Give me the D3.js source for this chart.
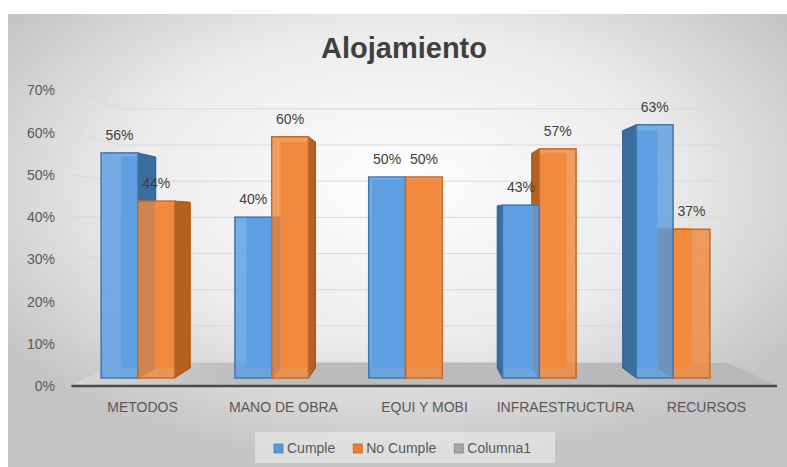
<!DOCTYPE html>
<html>
<head>
<meta charset="utf-8">
<script src="https://cdn.jsdelivr.net/npm/d3@7"></script>
<style>
  body { margin: 0; background: #fff; }
  svg text { font-family: "Liberation Sans", Arial, sans-serif; }
</style>
</head>
<body>
<div id="chart"></div>
<script>
// data
var categories = ["METODOS", "MANO DE OBRA", "EQUI Y MOBI", "INFRAESTRUCTURA", "RECURSOS"];
var seriesNames = ["Cumple", "No Cumple"];
var cumple = [0.56, 0.40, 0.50, 0.43, 0.63];
var noCumple = [0.44, 0.60, 0.50, 0.57, 0.37];
var legendLabels = ["Cumple", "No Cumple", "Columna1"];
var yTicks = [0, 0.1, 0.2, 0.3, 0.4, 0.5, 0.6, 0.7];

var W = 787, H = 467;
var fronts = ["#5d9fe0", "#f08a40"];
var sides = ["#3b6c9e", "#b5601f"];
var strokes = ["#3f77b3", "#c46a2a"];
var legendColors = ["#5b9bd5", "#ed7d31", "#a5a5a5"];

// fake 3d: everything is drawn in the front plane and pulled to a vanishing point
var VP = [420, 219];
var dBar = 0.937, dWall = 0.9, dFloor = 1.05;
function proj(x, y, r) {
    return [VP[0] + (x - VP[0]) * r, VP[1] + (y - VP[1]) * r];
}
function poly(pts) {
    return "M" + pts.map(function(p) { return p[0] + "," + p[1]; }).join("L") + "Z";
}

var svg = d3.select("#chart").append("svg")
    .attr("width", W)
    .attr("height", H);

var defs = svg.append("defs");
var bg = defs.append("radialGradient")
    .attr("id", "bg")
    .attr("cx", "50%").attr("cy", "38%").attr("r", "62%");
bg.append("stop").attr("offset", "0%").attr("stop-color", "#ffffff");
bg.append("stop").attr("offset", "55%").attr("stop-color", "#ececec");
bg.append("stop").attr("offset", "100%").attr("stop-color", "#c4c4c4");

var fl = defs.append("linearGradient")
    .attr("id", "floor").attr("x1", 0).attr("x2", 1).attr("y1", 0).attr("y2", 0);
fl.append("stop").attr("offset", "0%").attr("stop-color", "#d6d6d6");
fl.append("stop").attr("offset", "25%").attr("stop-color", "#bdbdbd");
fl.append("stop").attr("offset", "100%").attr("stop-color", "#b8b8b8");

svg.append("rect")
    .attr("x", 8).attr("y", 14)
    .attr("width", W - 8).attr("height", H - 14)
    .attr("fill", "url(#bg)");

// title
svg.append("text")
    .attr("x", 404).attr("y", 58)
    .attr("text-anchor", "middle")
    .attr("font-size", 29)
    .attr("font-weight", "bold")
    .attr("fill", "#404040")
    .text("Alojamiento");

var y = d3.scaleLinear().domain([0, 0.7]).range([378, 96.6]);
var x = d3.scaleBand().domain(categories).range([71, 740]).paddingInner(0.45).paddingOuter(0.225);
var xs = d3.scaleBand().domain(seriesNames).range([0, x.bandwidth()]);
var xLab = d3.scaleBand().domain(categories).range([72, 777]);

var wallL = 88, wallR = 760;

// floor
svg.append("path")
    .attr("d", poly([proj(wallL, y(0), dFloor), proj(wallR, y(0), dFloor),
                     proj(wallR, y(0), dWall), proj(wallL, y(0), dWall)]))
    .attr("fill", "url(#floor)");

// gridlines (left wall + back wall)
svg.selectAll(".grid")
    .data(yTicks)
    .enter().append("path")
    .attr("class", "grid")
    .attr("d", function(d) {
        var a = proj(wallL, y(d), dFloor), b = proj(wallL, y(d), dWall), c = proj(wallR, y(d), dWall);
        return "M" + a + "L" + b + "L" + c;
    })
    .attr("fill", "none")
    .attr("stroke", "#d9d9d9")
    .attr("stroke-width", 1);

// y labels
svg.selectAll(".ylab")
    .data(yTicks)
    .enter().append("text")
    .attr("class", "ylab")
    .attr("x", 55)
    .attr("y", function(d) { return proj(wallL, y(d), dFloor)[1] + 5; })
    .attr("text-anchor", "end")
    .attr("font-size", 14)
    .attr("fill", "#595959")
    .text(d3.format(".0%"));

// bars
var bars = [];
categories.forEach(function(c, i) {
    [cumple[i], noCumple[i]].forEach(function(v, s) {
        var x0 = x(c) + xs(seriesNames[s]);
        bars.push({ cat: c, s: s, v: v, x0: x0, x1: x0 + xs.bandwidth() });
    });
});
bars.sort(function(a, b) {
    return Math.abs((b.x0 + b.x1) / 2 - VP[0]) - Math.abs((a.x0 + a.x1) / 2 - VP[0]);
});

var g = svg.append("g");
bars.forEach(function(d) {
    var top = y(d.v), bot = y(0);
    var bx = g.append("g");
    // back face, seen through the front
    bx.append("path")
        .attr("d", poly([proj(d.x0, top, dBar), proj(d.x1, top, dBar), proj(d.x1, bot, dBar), proj(d.x0, bot, dBar)]))
        .attr("fill", fronts[d.s])
        .attr("stroke", d3.color(fronts[d.s]).brighter(0.4))
        .attr("stroke-width", 1);
    if (d.x0 > VP[0]) {
        bx.append("path")
            .attr("d", poly([proj(d.x0, top, 1), proj(d.x0, top, dBar), proj(d.x0, bot, dBar), proj(d.x0, bot, 1)]))
            .attr("fill", sides[d.s])
            .attr("stroke", d3.color(sides[d.s]).darker(0.3))
            .attr("stroke-width", 1);
    }
    if (d.x1 < VP[0]) {
        bx.append("path")
            .attr("d", poly([proj(d.x1, top, 1), proj(d.x1, top, dBar), proj(d.x1, bot, dBar), proj(d.x1, bot, 1)]))
            .attr("fill", sides[d.s])
            .attr("stroke", d3.color(sides[d.s]).darker(0.3))
            .attr("stroke-width", 1);
    }
    bx.append("rect")
        .attr("x", d.x0).attr("y", top)
        .attr("width", d.x1 - d.x0).attr("height", bot - top)
        .attr("fill", fronts[d.s])
        .attr("fill-opacity", 0.82)
        .attr("stroke", strokes[d.s])
        .attr("stroke-width", 1.5);
});

// floor front edge
var f0 = proj(wallL, y(0), dFloor), f1 = proj(wallR, y(0), dFloor);
svg.append("line")
    .attr("x1", f0[0]).attr("y1", f0[1])
    .attr("x2", f1[0]).attr("y2", f1[1])
    .attr("stroke", "#4a4a4a")
    .attr("stroke-width", 2.5);

// data labels
svg.selectAll(".dlab")
    .data(bars)
    .enter().append("text")
    .attr("class", "dlab")
    .attr("x", function(d) { return (d.x0 + d.x1) / 2; })
    .attr("y", function(d) { return y(d.v) - 13; })
    .attr("text-anchor", "middle")
    .attr("font-size", 14)
    .attr("fill", "#404040")
    .text(function(d) { return d3.format(".0%")(d.v); });

// category labels
svg.selectAll(".xlab")
    .data(categories)
    .enter().append("text")
    .attr("class", "xlab")
    .attr("x", function(d) { return xLab(d) + xLab.bandwidth() / 2; })
    .attr("y", 412)
    .attr("text-anchor", "middle")
    .attr("font-size", 14)
    .attr("fill", "#595959")
    .text(function(d) { return d; });

// legend
svg.append("rect")
    .attr("x", 255).attr("y", 432)
    .attr("width", 300).attr("height", 31)
    .attr("fill", "#ececec")
    .attr("fill-opacity", 0.6);

var lg = svg.append("g");
var lx = 274;
legendLabels.forEach(function(l, i) {
    lg.append("rect")
        .attr("x", lx).attr("y", 444)
        .attr("width", 9).attr("height", 9)
        .attr("fill", legendColors[i])
        .attr("stroke", d3.color(legendColors[i]).darker(0.6))
        .attr("stroke-width", 0.8);
    var t = lg.append("text")
        .attr("x", lx + 13).attr("y", 453)
        .attr("font-size", 14)
        .attr("fill", "#595959")
        .text(l);
    lx += 13 + t.node().getComputedTextLength() + 18;
});
</script>
</body>
</html>
